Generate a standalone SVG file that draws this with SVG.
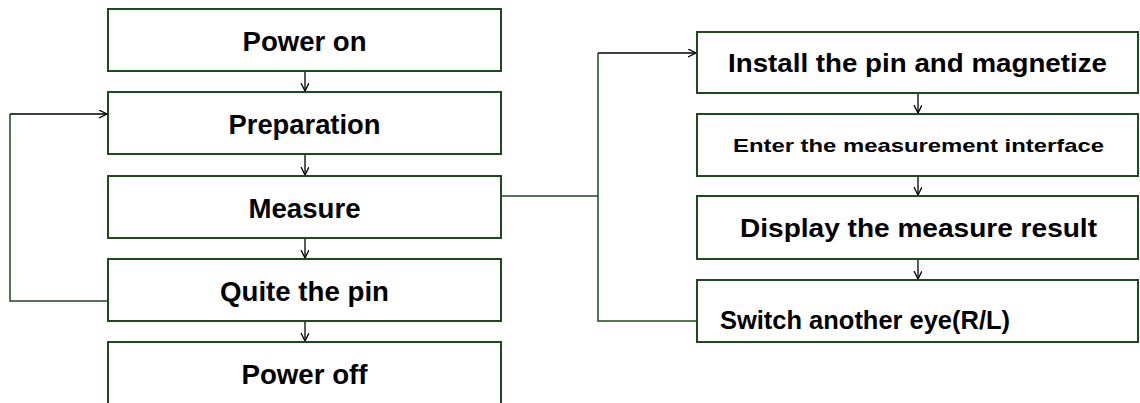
<svg xmlns="http://www.w3.org/2000/svg" width="1140" height="403" viewBox="0 0 1140 403">
<style>
.box{fill:#fff;stroke:#1e4a1e;stroke-width:2}
.t{font-family:"Liberation Sans",Arial,sans-serif;font-weight:bold;fill:#000}
.l{font-size:27px;text-anchor:middle}
.r{font-size:26px}
.g{fill:none;stroke:#1e4a1e;stroke-width:1.5}
.a{fill:none;stroke:#000;stroke-width:1.3;marker-end:url(#ah)}
</style>
<defs>
<marker id="ah" markerWidth="10" markerHeight="10" refX="8" refY="4" orient="auto" markerUnits="userSpaceOnUse">
<path d="M0,0 L8,4 L0,8" fill="none" stroke="#000" stroke-width="1.3"/>
</marker>
</defs>
<g id="connectors">
<path class="a" d="M305,71 V91"/>
<path class="a" d="M305,154 V175"/>
<path class="a" d="M305,238 V258"/>
<path class="a" d="M305,321 V341"/>
<path class="g" d="M108,301 H10 V114"/>
<path class="a" d="M10,114 H107"/>
<path class="g" d="M501,196 H598"/>
<path class="g" d="M598,53 V321 H697"/>
<path class="a" d="M598,53 H696"/>
<path class="a" d="M918,93 V113"/>
<path class="a" d="M918,176 V195"/>
<path class="a" d="M918,259 V279"/>
</g>
<g id="power-on"><rect class="box" x="108" y="9" width="393" height="62"/><text class="t l" x="304.5" y="51" textLength="124" lengthAdjust="spacingAndGlyphs">Power on</text></g>
<g id="preparation"><rect class="box" x="108" y="92" width="393" height="62"/><text class="t l" x="304.5" y="134" textLength="152" lengthAdjust="spacingAndGlyphs">Preparation</text></g>
<g id="measure"><rect class="box" x="108" y="176" width="393" height="62"/><text class="t l" x="304.5" y="218" textLength="112" lengthAdjust="spacingAndGlyphs">Measure</text></g>
<g id="quite-the-pin"><rect class="box" x="108" y="259" width="393" height="62"/><text class="t l" x="304.5" y="301" textLength="169" lengthAdjust="spacingAndGlyphs">Quite the pin</text></g>
<g id="power-off"><rect class="box" x="108" y="342" width="393" height="70"/><text class="t l" x="304.5" y="384" textLength="126" lengthAdjust="spacingAndGlyphs">Power off</text></g>
<g id="install"><rect class="box" x="697" y="32" width="441" height="61"/><text class="t r" x="728" y="72" textLength="379" lengthAdjust="spacingAndGlyphs">Install the pin and magnetize</text></g>
<g id="enter"><rect class="box" x="697" y="114" width="441" height="62"/><text class="t r" x="733" y="152" style="font-size:19px" textLength="371" lengthAdjust="spacingAndGlyphs">Enter the measurement interface</text></g>
<g id="display"><rect class="box" x="697" y="196" width="441" height="63"/><text class="t r" x="740" y="237" textLength="357" lengthAdjust="spacingAndGlyphs">Display the measure result</text></g>
<g id="switch"><rect class="box" x="697" y="280" width="441" height="62"/><text class="t r" x="720" y="329" textLength="290" lengthAdjust="spacingAndGlyphs">Switch another eye(R/L)</text></g>
</svg>
